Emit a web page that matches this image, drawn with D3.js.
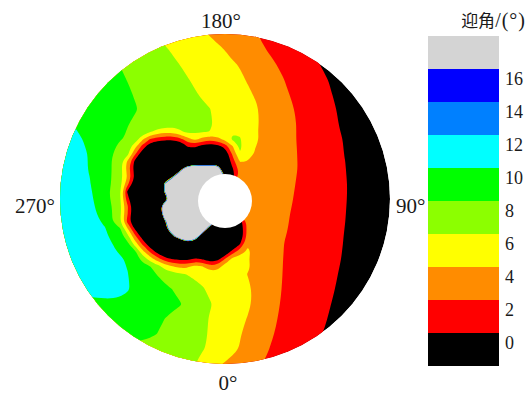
<!DOCTYPE html>
<html>
<head>
<meta charset="utf-8">
<script src="https://cdn.jsdelivr.net/npm/d3@7"></script>
<style>
  body { margin: 0; background: #fff; }
  svg { display: block; }
  text { font-family: "Liberation Serif", "Times New Roman", serif; fill: #1a1a1a; }
</style>
</head>
<body>
<svg id="chart" width="529" height="394"></svg>
<script>
// contour levels (deg) and the colour of each band, lowest first
const levels = [0, 2, 4, 6, 8, 10, 12, 14, 16];
const bandColors = ["#000000", "#ff0000", "#ff8c00", "#ffff00", "#8cff00",
                    "#00ff00", "#00ffff", "#0080ff", "#0000ff", "#d4d4d4"];
const legendTicks = [16, 14, 12, 10, 8, 6, 4, 2, 0];
const azimuths = [0, 90, 180, 270];
const legendTitle = ["迎角", "/(°)"];

// columns: 4 coarse on the left, 19 fine across the hub area, 9 coarse on the right;
// rows: 6 coarse on top, 21 fine through the hub area, 6 coarse below.
// grey reverse-flow cells carry large values so the jump to black stays a thin line
const aoa = [
  [10.02, 9.4, 8.85, 8.2, 7.6, 7.3, 7.0, 6.65, 6.3, 5.98, 5.7, 5.4, 5.1, 4.8, 4.5, 4.2, 3.9, 3.6, 3.3, 3.0, 2.7, 2.4, 2.1, 1.5, 0.85, 0.2, -0.4, -1.1, -1.7, -2.3, -3.0, -3.6],
  [10.2, 9.6, 8.9, 8.3, 7.7, 7.45, 7.2, 6.9, 6.6, 6.35, 6.1, 5.85, 5.6, 5.3, 5.0, 4.75, 4.5, 4.22, 3.95, 3.58, 3.2, 2.85, 2.5, 1.8, 1.2, 0.5, -0.1, -0.8, -1.4, -2.1, -2.7, -3.4],
  [10.4, 9.8, 9.2, 8.6, 7.97, 7.73, 7.5, 7.25, 7.0, 6.75, 6.5, 6.23, 5.97, 5.73, 5.5, 5.23, 4.95, 4.68, 4.4, 4.15, 3.9, 3.5, 3.1, 2.3, 1.6, 0.9, 0.2, -0.5, -1.1, -1.8, -2.5, -3.2],
  [10.3, 9.98, 9.4, 8.8, 8.2, 7.95, 7.7, 7.45, 7.2, 7.0, 6.8, 6.55, 6.3, 6.05, 5.8, 5.55, 5.3, 5.05, 4.8, 4.5, 4.2, 3.9, 3.6, 2.8, 1.95, 1.3, 0.6, -0.1, -0.8, -1.5, -2.1, -2.8],
  [10.7, 10.3, 9.8, 9.2, 8.5, 8.2, 7.9, 7.7, 7.5, 7.25, 7.0, 6.8, 6.6, 6.35, 6.1, 5.85, 5.6, 5.33, 5.05, 4.78, 4.5, 4.2, 3.9, 3.1, 2.2, 1.5, 0.8, 0.1, -0.6, -1.3, -2.0, -2.7],
  [10.9, 10.2, 9.65, 9.1, 8.6, 8.35, 8.1, 7.85, 7.6, 7.4, 7.2, 7.0, 6.8, 6.6, 6.4, 6.21, 6.02, 5.71, 5.4, 5.1, 4.8, 4.5, 4.2, 3.35, 2.5, 1.7, 1.0, 0.3, -0.4, -1.1, -1.8, -2.5],
  [10.5, 9.9, 9.4, 8.8, 8.3, 8.05, 7.8, 7.65, 7.5, 7.35, 7.2, 7.0, 6.8, 6.65, 6.5, 6.3, 6.1, 5.85, 5.6, 5.25, 4.9, 4.55, 4.2, 3.4, 2.6, 1.8, 1.1, 0.4, -0.3, -1.0, -1.6, -2.3],
  [10.65, 10.1, 9.55, 8.85, 8.2, 7.95, 7.7, 7.5, 6.3, 5.4, 4.8, 4.8, 5.7, 6.6, 6.4, 6.2, 5.98, 5.75, 5.5, 5.8, 5.6, 4.6, 4.15, 3.4, 2.6, 1.8, 1.15, 0.45, -0.2, -0.9, -1.55, -2.25],
  [10.8, 10.3, 9.7, 8.9, 8.1, 7.85, 7.4, 4.4, 1.95, 1.1, 0.6, 0.6, 1.4, 3.4, 4.6, 3.4, 2.9, 3.4, 4.6, 6.3, 6.2, 4.6, 4.2, 3.4, 2.6, 1.8, 1.2, 0.5, -0.1, -0.8, -1.5, -2.2],
  [10.9, 10.4, 9.8, 8.85, 7.7, 7.2, 4.6, 1.3, -1.7, -3, -3, -3, -2.9, 0.1, 0.3, -0.9, -1.4, -0.9, 0.8, 3.8, 6.3, 5.0, 4.05, 3.3, 2.58, 1.84, 1.22, 0.55, -0.07, -0.75, -1.4, -2.1],
  [11.0, 10.5, 9.9, 8.8, 7.3, 6.6, 2.3, -1.7, -3, -3, -3, -3, -3, -1.5, -2.3, -3, -3, -3, -2.0, 2.3, 5.95, 4.6, 3.9, 3.2, 2.55, 1.87, 1.23, 0.6, -0.04, -0.7, -1.3, -2.0],
  [11.15, 10.55, 9.9, 8.8, 6.95, 3.7, -0.6, -3, -3, -3, -3, -3, -3, -150, -88, -88, -88, -88, -2.8, 1.1, 4.1, 3.95, 3.8, 3.18, 2.53, 1.89, 1.27, 0.63, 0.01, -0.65, -1.25, -1.9],
  [11.3, 10.6, 9.9, 8.8, 7.0, 3.1, -1.1, -3, -3, -3, -3, -3, -37, 100, 100, 100, 100, 100, -113, -0.3, 2.8, 3.5, 3.6, 3.15, 2.5, 1.9, 1.3, 0.65, 0.04, -0.6, -1.2, -1.8],
  [11.3, 10.65, 9.98, 8.8, 6.9, 3.95, -0.3, -3, -3, -3, -42, -5, 100, 100, 100, 100, 100, 100, -5, -1, 2.8, 3.3, 3.5, 3.13, 2.48, 1.85, 1.27, 0.65, 0.06, -0.55, -1.15, -1.75],
  [11.3, 10.7, 10.05, 8.8, 6.8, 2.6, -1.7, -3, -3, -134, 20, 100, 100, 100, 100, 100, 100, 100, 100, 3, 3, 3.2, 3.5, 3.1, 2.45, 1.8, 1.23, 0.65, 0.08, -0.5, -1.1, -1.7],
  [11.3, 10.8, 10.18, 8.85, 6.1, -0.3, -3, -3, -3, -134, 20, 100, 100, 100, 100, 100, 100, 100, 100, 3, 3, 3.2, 3.4, 3.09, 2.4, 1.75, 1.2, 0.63, 0.08, -0.5, -1.05, -1.65],
  [11.3, 10.9, 10.3, 8.9, 6.3, 0.85, -3, -3, -3, -3, -51, 100, 100, 100, 100, 100, 100, 100, 100, 3, 3, 3, 3.4, 3.07, 2.35, 1.7, 1.16, 0.6, 0.07, -0.5, -1.0, -1.6],
  [11.3, 10.95, 10.4, 9.15, 6.6, 2.3, -2.0, -3, -3, -88, 100, 100, 100, 100, 100, 100, 100, 100, 100, 3, 3, 3, 3.3, 3.04, 2.28, 1.65, 1.13, 0.58, 0.05, -0.5, -1.0, -1.6],
  [11.3, 11.0, 10.5, 9.4, 6.5, 2.1, -2.3, -3, -3, -150, 100, 100, 100, 100, 100, 100, 100, 100, -3, 3, 3, 3, 3.3, 3.0, 2.2, 1.6, 1.1, 0.56, 0.03, -0.5, -1.0, -1.6],
  [11.3, 11.0, 10.6, 9.75, 6.1, 1.4, -2.9, -3, -3, -3, -7, 100, 100, 100, 100, 100, 100, -3, -3, -2, -1, 2.5, 3.3, 2.9, 2.15, 1.58, 1.07, 0.53, 0.01, -0.5, -1.0, -1.6],
  [11.3, 11.0, 10.7, 10.1, 8.3, 4.3, -0.2, -3, -3, -3, -37, 100, 100, 100, 100, 100, -67, -3, -3, -3, -1.7, 2.6, 3.4, 2.8, 2.1, 1.55, 1.03, 0.5, -0.02, -0.5, -1.0, -1.6],
  [11.25, 11.0, 10.75, 10.3, 9.0, 6.8, 2.6, -1.1, -3, -3, -3, -25, 100, 100, 100, -88, -3, -3, -3, -3, -1.7, 2.6, 3.6, 2.75, 2.03, 1.5, 0.99, 0.47, -0.05, -0.55, -1.05, -1.6],
  [11.2, 11.0, 10.8, 10.5, 9.5, 8.6, 5.1, 1.7, -1.7, -3, -3, -3, -200, -37, -113, -3, -3, -3, -3, -3, -0.1, 3.9, 3.8, 2.7, 1.95, 1.46, 0.95, 0.44, -0.07, -0.6, -1.1, -1.6],
  [11.1, 11.0, 10.8, 10.55, 9.85, 9.2, 8.4, 4.6, 1.7, -0.9, -3, -3, -3, -3, -3, -3, -3, -3, -2.3, 0.85, 3.1, 4.2, 3.7, 2.7, 1.93, 1.43, 0.93, 0.4, -0.1, -0.6, -1.1, -1.6],
  [11.0, 11.0, 10.8, 10.6, 10.2, 9.8, 9.0, 7.4, 5.1, 2.9, 0.8, -0.1, -0.6, -0.6, 0.3, -0.1, -1.7, -0.9, 2.05, 4.6, 5.0, 4.1, 3.6, 2.7, 1.9, 1.4, 0.9, 0.37, -0.13, -0.6, -1.1, -1.6],
  [11.0, 11.0, 10.85, 10.65, 10.25, 9.95, 9.3, 8.7, 8.1, 6.8, 5.1, 4.1, 3.4, 3.6, 4.6, 4.05, 2.6, 3.1, 5.0, 4.9, 4.6, 4.2, 3.65, 2.7, 1.88, 1.37, 0.85, 0.33, -0.19, -0.7, -1.2, -1.7],
  [11.0, 11.0, 10.9, 10.7, 10.3, 10.05, 9.55, 9.0, 8.45, 7.9, 7.3, 6.75, 6.2, 5.9, 5.6, 5.4, 5.2, 5.0, 4.8, 4.55, 4.3, 3.98, 3.7, 2.7, 1.86, 1.33, 0.8, 0.28, -0.25, -0.8, -1.3, -1.8],
  [10.5, 10.5, 10.4, 10.6, 10.4, 10.1, 9.8, 9.45, 9.1, 8.75, 8.4, 7.98, 7.6, 7.1, 6.6, 6.15, 5.7, 5.4, 5.1, 4.8, 4.5, 4.18, 3.85, 2.7, 1.8, 1.25, 0.7, 0.18, -0.36, -0.9, -1.4, -2.0],
  [9.5, 9.5, 9.6, 9.7, 9.7, 9.55, 9.4, 9.2, 9.0, 8.75, 8.5, 8.3, 8.1, 7.65, 7.2, 6.65, 6.1, 5.75, 5.4, 5.0, 4.6, 4.2, 3.8, 2.6, 1.7, 1.15, 0.6, 0.04, -0.5, -1.0, -1.6, -2.1],
  [9.2, 9.2, 9.2, 9.2, 9.0, 8.9, 8.8, 8.65, 8.5, 8.25, 7.98, 7.7, 7.45, 7.2, 6.75, 6.3, 5.9, 5.5, 5.1, 4.6, 4.25, 3.95, 3.5, 2.4, 1.6, 1.04, 0.46, -0.1, -0.7, -1.2, -1.7, -2.3],
  [8.8, 8.8, 8.8, 8.7, 8.6, 8.5, 8.4, 8.35, 8.25, 7.98, 7.6, 7.25, 6.95, 6.7, 6.45, 6.2, 5.9, 5.45, 5.0, 4.55, 4.1, 3.6, 3.15, 2.2, 1.5, 0.9, 0.3, -0.3, -0.9, -1.5, -2.0, -2.6],
  [8.6, 8.5, 8.4, 8.2, 7.98, 7.82, 7.65, 7.48, 7.3, 7.13, 6.97, 6.8, 6.6, 6.45, 6.3, 6.1, 5.8, 5.4, 4.9, 4.4, 3.9, 3.35, 2.85, 1.96, 1.3, 0.65, 0.02, -0.65, -1.3, -1.9, -2.5, -3.1],
  [8.3, 8.2, 8.1, 7.98, 7.8, 7.65, 7.5, 7.35, 7.2, 7.05, 6.9, 6.7, 6.5, 6.3, 6.02, 5.4, 4.8, 4.2, 3.85, 3.5, 3.1, 2.75, 2.35, 1.7, 1.1, 0.45, -0.2, -0.9, -1.5, -2.1, -2.7, -3.3]
];

const svg = d3.select("#chart");
const cx = 225, cy = 199, R = 165;
const hub = { x: 225, y: 201, r: 27 };
const nx = aoa[0].length, ny = aoa.length;

// sample index -> pixel; 15 px steps outside, 7.5 px steps around the hub
const xScale = d3.scaleLinear().domain([0, 4, 22, nx - 1]).range([60, 120, 255, 390]);
const yScale = d3.scaleLinear().domain([0, 6, 26, ny - 1]).range([34, 124, 274, 364]);
const color = d3.scaleThreshold().domain(levels).range(bandColors);

const contours = d3.contours()
  .size([nx, ny])
  .thresholds(levels)(aoa.flat());

// contour coords sit half a cell off the sample index
const ring = d3.line()
  .x(p => xScale(p[0] - 0.5))
  .y(p => yScale(p[1] - 0.5))
  .curve(d3.curveBasisClosed);

const pathOf = mp => mp.coordinates
  .map(poly => poly.map(r => ring(r.slice(0, -1))).join(""))
  .join("");

svg.append("defs").append("clipPath").attr("id", "disk")
  .append("circle").attr("cx", cx).attr("cy", cy).attr("r", R);

const disk = svg.append("g").attr("clip-path", "url(#disk)");

disk.append("circle")
  .attr("cx", cx).attr("cy", cy).attr("r", R)
  .attr("fill", bandColors[0]);

disk.selectAll("path.band")
  .data(contours)
  .enter()
  .append("path")
  .attr("class", "band")
  .attr("d", pathOf)
  .attr("fill", d => color(d.value))
  .attr("fill-rule", "evenodd");

// hub cut-out
svg.append("circle")
  .attr("cx", hub.x).attr("cy", hub.y).attr("r", hub.r)
  .attr("fill", "#fff");

// azimuth labels: 0 at the rear, counter-clockwise
svg.selectAll("text.azimuth")
  .data(azimuths)
  .enter()
  .append("text")
  .attr("class", "azimuth")
  .attr("font-size", 21)
  .attr("x", a => a === 0 ? cx + 3 : a === 180 ? cx - 4 : a === 90 ? cx + R + 6 : cx - R - 5)
  .attr("y", a => a === 0 ? cy + R + 26 : a === 180 ? cy - R - 6 : cy + 14)
  .attr("text-anchor", a => a === 90 ? "start" : a === 270 ? "end" : "middle")
  .text(a => a + "°");

// colour bar
const legendY = d3.scaleLinear().domain([18, -2]).range([36, 366]);
const legend = svg.append("g");

legend.selectAll("rect")
  .data(bandColors)
  .enter()
  .append("rect")
  .attr("x", 428)
  .attr("width", 71)
  .attr("y", (c, i) => legendY(i * 2))
  .attr("height", (c, i) => legendY(i * 2 - 2) - legendY(i * 2))
  .attr("fill", c => c);

legend.selectAll("text.tick")
  .data(legendTicks)
  .enter()
  .append("text")
  .attr("class", "tick")
  .attr("x", 505)
  .attr("y", t => legendY(t) + 16)
  .attr("font-size", 18)
  .text(t => t);

const title = legend.append("text")
  .attr("x", 526)
  .attr("y", 27)
  .attr("text-anchor", "end");
title.append("tspan")
  .attr("font-family", "'Noto Sans CJK SC', sans-serif")
  .attr("font-size", 17)
  .text(legendTitle[0]);
title.append("tspan")
  .attr("font-size", 20)
  .attr("letter-spacing", 1)
  .text(legendTitle[1]);
</script>
</body>
</html>
